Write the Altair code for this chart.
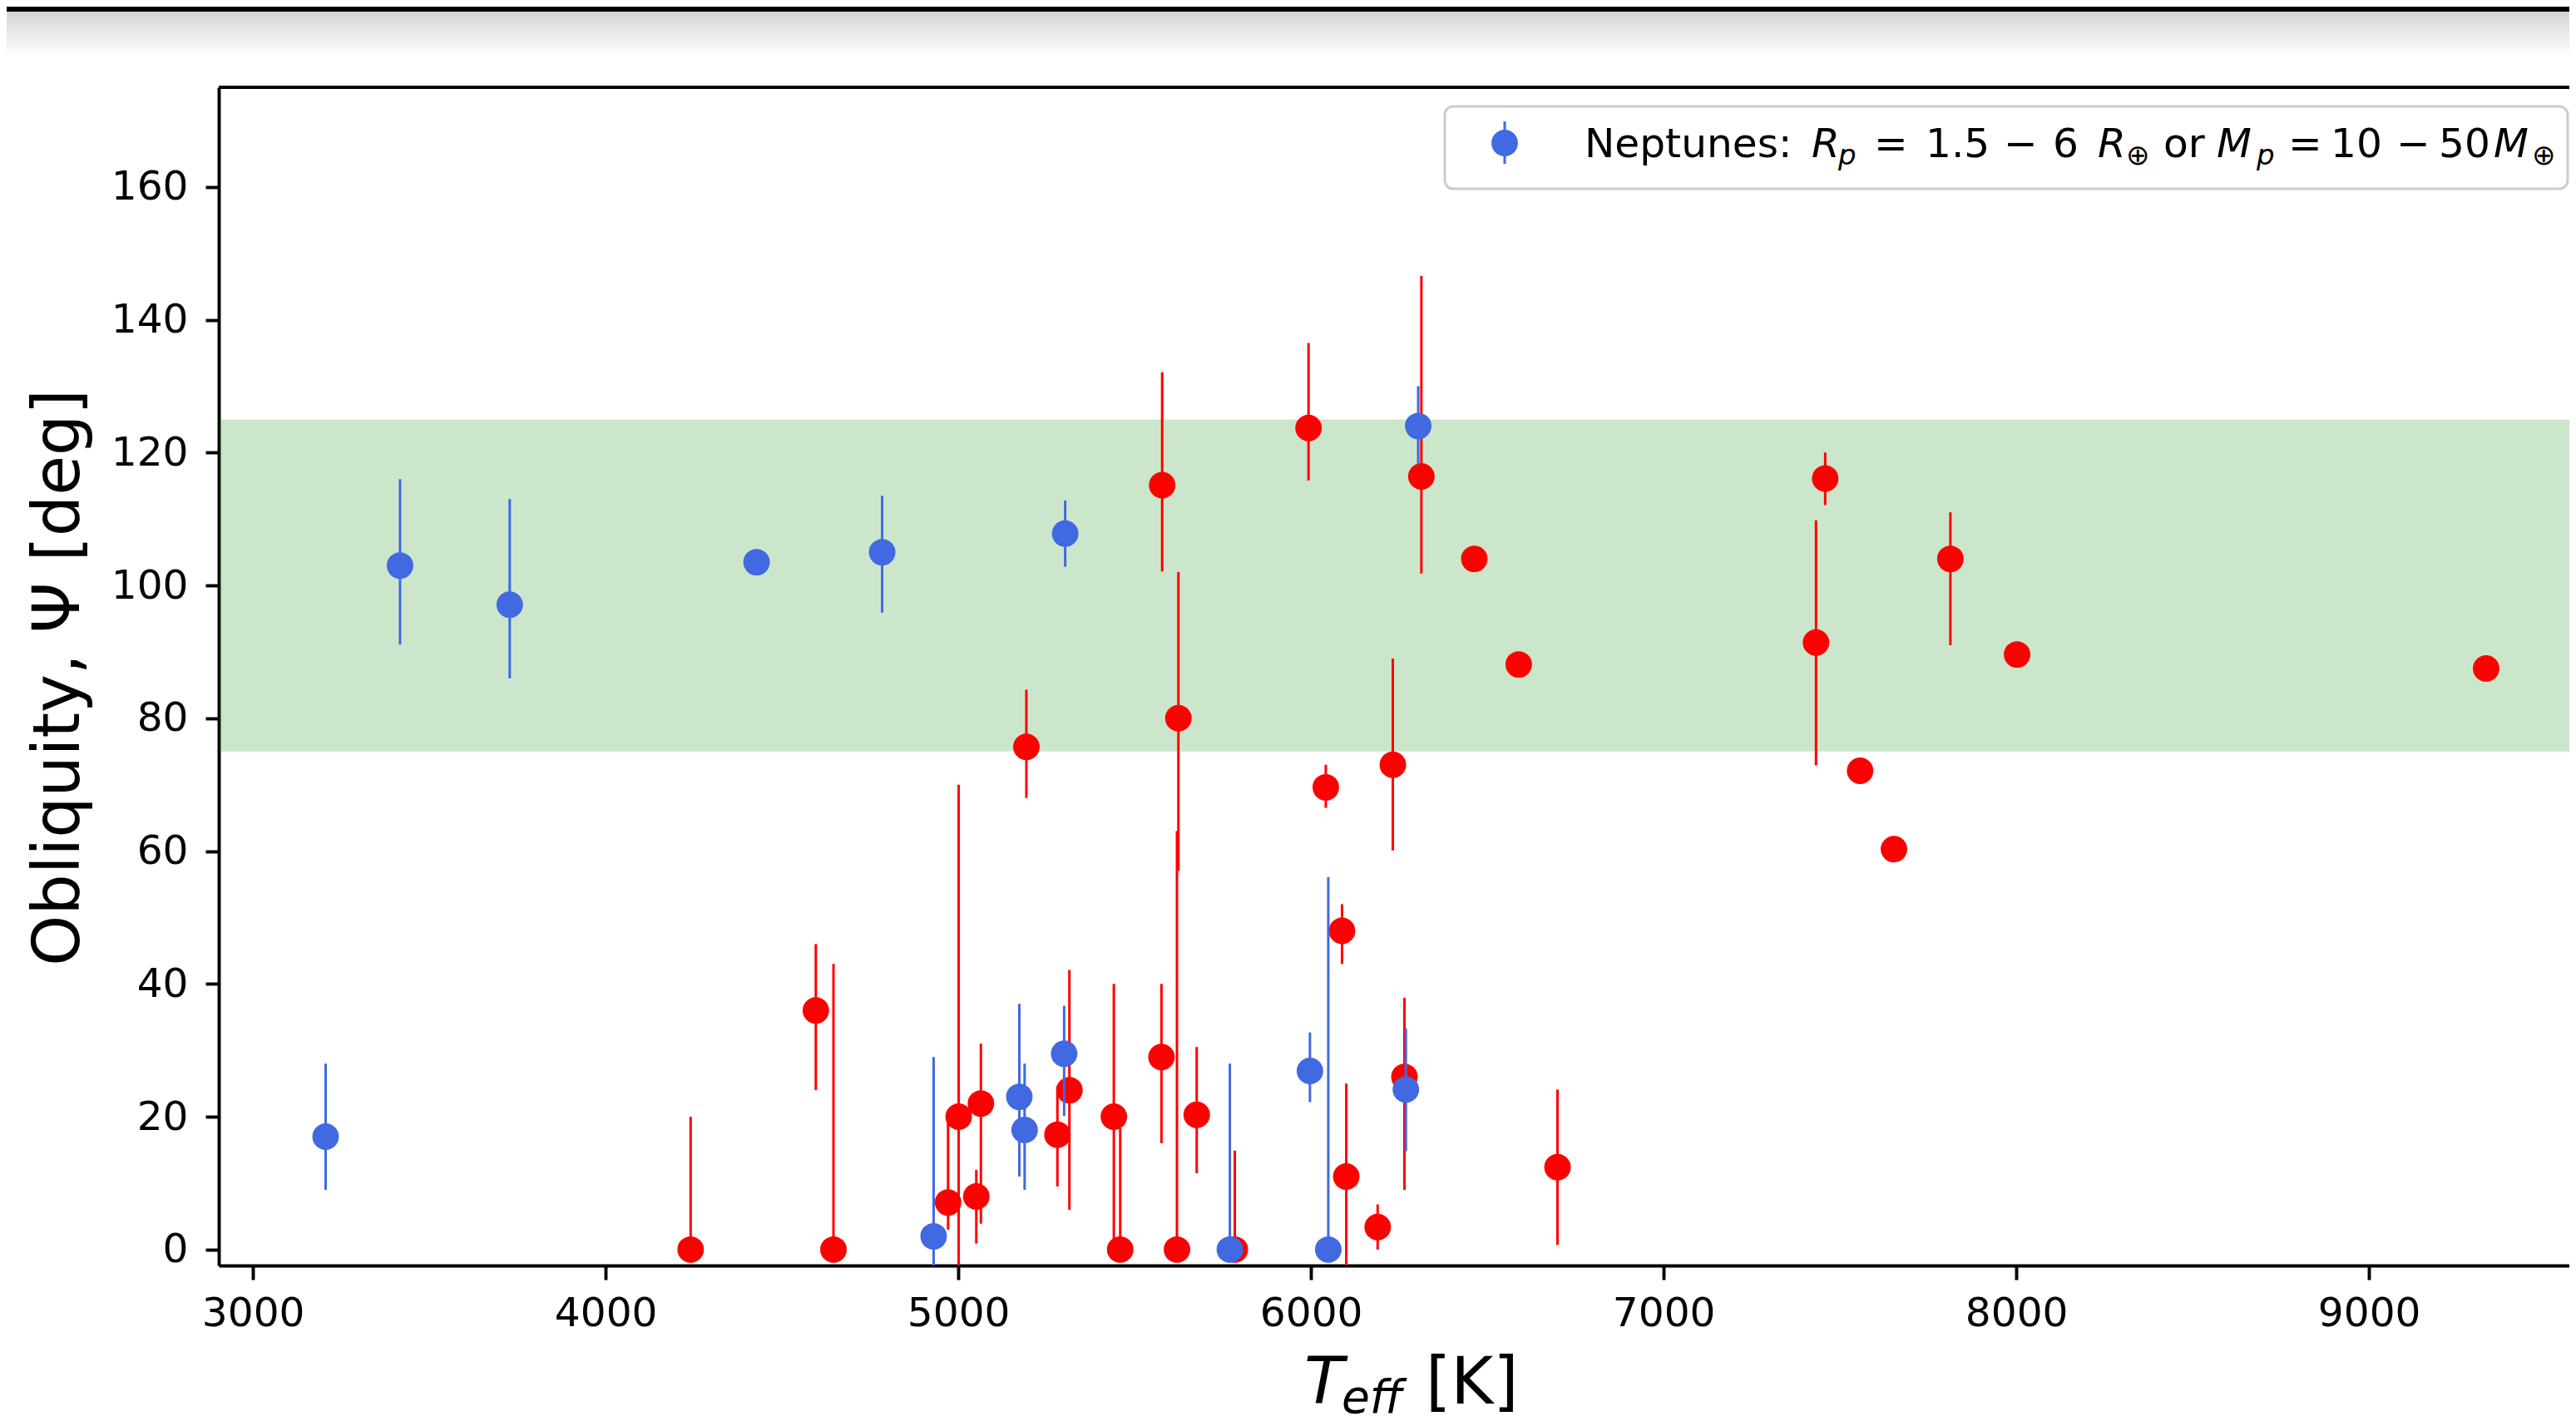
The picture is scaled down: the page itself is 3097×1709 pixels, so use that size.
import altair as alt
import pandas as pd

# ---------------- data ----------------
# "other" planets (red)
red_teff = [4241, 4596, 4646, 4971, 5001, 5051, 5064, 5193, 5281, 5315, 5441, 5459,
            5578, 5576, 5624, 5620, 5676, 5784, 5993, 6042, 6088, 6100, 6189, 6232,
            6265, 6313, 6463, 6589, 6699, 7432, 7458, 7557, 7653, 7813, 8002, 9332]
red_psi = [0.0, 36.0, 0.0, 7.1, 20.0, 8.0, 22.0, 75.7, 17.3, 24.0, 20.0, 0.0,
           115.1, 29.0, 80.0, 0.0, 20.3, 0.0, 123.7, 69.6, 48.0, 11.0, 3.4, 73.0,
           26.0, 116.4, 104.0, 88.1, 12.4, 91.4, 116.1, 72.1, 60.3, 104.0, 89.6, 87.5]
red_lo = [0.0, 24.0, 0.0, 3.0, -30.0, 0.9, 3.9, 68.0, 9.5, 6.0, 1.3, 0.0,
          102.1, 16.0, 57.0, 0.0, 11.5, 0.0, 115.8, 66.5, 43.0, -3.0, 0.0, 60.1,
          9.0, 101.8, 104.0, 88.1, 0.7, 72.9, 112.1, 71.0, 60.3, 91.0, 89.6, 87.5]
red_hi = [20.0, 46.0, 43.0, 19.4, 70.0, 12.0, 31.0, 84.3, 24.6, 42.1, 40.0, 18.3,
          132.1, 40.0, 102.0, 63.0, 30.5, 14.9, 136.5, 73.0, 52.0, 25.0, 6.8, 89.0,
          37.9, 146.6, 104.0, 88.1, 24.1, 109.8, 120.0, 73.0, 60.3, 111.0, 89.6, 87.5]

# Neptunes (blue)
blue_teff = [3206, 3417, 3728, 4428, 4784, 5303, 6304, 4930, 5173, 5188, 5300,
             5770, 5997, 6049, 6269]
blue_psi = [17.0, 103.0, 97.1, 103.5, 105.0, 107.8, 124.0, 2.0, 23.0, 18.0, 29.5,
            0.0, 26.9, 0.0, 24.1]
blue_lo = [9.0, 91.1, 86.0, 103.5, 95.9, 102.8, 118.2, -25.0, 11.0, 9.0, 20.1,
           0.0, 22.2, 0.0, 14.8]
blue_hi = [28.0, 116.0, 113.0, 103.5, 113.5, 112.8, 130.0, 29.0, 37.0, 28.0, 36.7,
           28.0, 32.7, 56.1, 33.3]

band_low = [75]
band_high = [125]

x_ticks = [3000, 4000, 5000, 6000, 7000, 8000, 9000]
y_ticks = [0, 20, 40, 60, 80, 100, 120, 140, 160]

legend_label = "Neptunes"

# ---------------- layout / style ----------------
W, H = 2826, 1417
PAD = {"left": 255, "top": 97, "right": 0, "bottom": 190}
X_DOM = [2903, 9568]
Y_DOM = [-2.4, 175]
FONT = "DejaVu Sans"
RED = "#ff0000"
BLUE = "#4169e1"
TICK_FS = 48.6
TITLE_FS = 77.8
LW = 3.9
MSIZE = 1018

red = pd.DataFrame({"T": red_teff, "psi": red_psi, "lo": red_lo, "hi": red_hi})
blue = pd.DataFrame({"T": blue_teff, "psi": blue_psi, "lo": blue_lo, "hi": blue_hi})
band = pd.DataFrame({"lo": band_low, "hi": band_high})
dummy = pd.DataFrame({"d": [0]})

xs = alt.Scale(domain=X_DOM, nice=False, zero=False)
ys = alt.Scale(domain=Y_DOM, nice=False, zero=False)

x_axis = alt.Axis(values=x_ticks, format="d", title=None, grid=False,
                  labelFont=FONT, labelFontSize=TICK_FS, labelColor="black",
                  tickColor="black", tickSize=17, tickWidth=LW,
                  domainColor="black", domainWidth=LW, labelPadding=17,
                  labelFlush=False, labelOverlap=False)
y_axis = alt.Axis(values=y_ticks, format="d", title=None, grid=False,
                  labelFont=FONT, labelFontSize=TICK_FS, labelColor="black",
                  tickColor="black", tickSize=16, tickWidth=LW,
                  domainColor="black", domainWidth=LW, labelPadding=21,
                  labelFlush=False, labelOverlap=False)


def xenc():
    return alt.X("T:Q", scale=xs, axis=x_axis)


band_layer = alt.Chart(band).mark_rect(color="green", opacity=0.2).encode(
    x=alt.value(0), x2=alt.value(W),
    y=alt.Y("lo:Q", scale=ys, axis=y_axis), y2="hi:Q")


def series(df, color):
    rules = alt.Chart(df).mark_rule(color=color, strokeWidth=3, clip=True).encode(
        x=xenc(), y=alt.Y("lo:Q", scale=ys, axis=y_axis), y2="hi:Q")
    pts = alt.Chart(df).mark_circle(color=color, size=MSIZE, opacity=1).encode(
        x=xenc(), y=alt.Y("psi:Q", scale=ys, axis=y_axis))
    return [rules, pts]


top_spine = alt.Chart(dummy).mark_rule(color="black", strokeWidth=LW).encode(
    x=alt.value(0), x2=alt.value(W), y=alt.value(0))

# screenshot frame at the top of the reference
black_band = alt.Chart(dummy).mark_rect(color="black").encode(
    x=alt.value(-PAD["left"]), x2=alt.value(W), y=alt.value(-PAD["top"]), y2=alt.value(-91))
grad = alt.LinearGradient(
    gradient="linear",
    stops=[alt.GradientStop(color="#d4d4d4", offset=0),
           alt.GradientStop(color="#ffffff", offset=1)],
    x1=0, x2=0, y1=0, y2=1)
grad_band = alt.Chart(dummy).mark_rect(fill=grad).encode(
    x=alt.value(-PAD["left"]), x2=alt.value(W), y=alt.value(-91), y2=alt.value(-37))

# legend box
legend_box = alt.Chart(dummy).mark_rect(
    fill="white", fillOpacity=0.8, stroke="#cccccc", strokeWidth=3, cornerRadius=10
).encode(x=alt.value(1474), x2=alt.value(2824), y=alt.value(23), y2=alt.value(122))
legend_err = alt.Chart(dummy).mark_rule(color=BLUE, strokeWidth=3).encode(
    x=alt.value(1546), y=alt.value(41), y2=alt.value(92))
legend_pt = alt.Chart(dummy).mark_circle(color=BLUE, size=MSIZE, opacity=1).encode(
    x=alt.value(1546), y=alt.value(67))

# text pieces: (text, x, y_baseline, size, italic) relative to plot origin
LEG_Y = 84
SUB_Y = 93
text_pieces = [
    (legend_label + ":", 1642, LEG_Y, 48.6, False),
    ("R", 1915, LEG_Y, 48.6, True),
    ("p", 1947, SUB_Y, 34, True),
    ("=", 1990, LEG_Y, 48.6, False),
    ("1.5", 2052, LEG_Y, 48.6, False),
    ("\u2212", 2146, LEG_Y, 48.6, False),
    ("6", 2205, LEG_Y, 48.6, False),
    ("R", 2259, LEG_Y, 48.6, True),
    ("\u2295", 2293, SUB_Y, 34, False),
    ("or", 2338, LEG_Y, 48.6, False),
    ("M", 2402, LEG_Y, 48.6, True),
    ("p", 2450, SUB_Y, 34, True),
    ("=", 2488, LEG_Y, 48.6, False),
    ("10", 2539, LEG_Y, 48.6, False),
    ("\u2212", 2618, LEG_Y, 48.6, False),
    ("50", 2669, LEG_Y, 48.6, False),
    ("M", 2735, LEG_Y, 48.6, True),
    ("\u2295", 2781, SUB_Y, 34, False),
    # x axis title  T_eff [K]
    ("T", 1305, 1583, TITLE_FS, True),
    ("eff", 1350, 1594, 55, True),
    ("[K]", 1451, 1583, TITLE_FS, False),
]

text_layers = []
for txt, px, py, fs, ital in text_pieces:
    text_layers.append(
        alt.Chart(dummy).mark_text(
            text=txt, align="left", baseline="alphabetic", font=FONT,
            fontSize=fs, fontStyle="italic" if ital else "normal", color="black"
        ).encode(x=alt.value(px), y=alt.value(py))
    )

y_title = alt.Chart(dummy).mark_text(
    text="Obliquity, \u03a8 [deg]", angle=270, align="center", baseline="middle",
    font=FONT, fontSize=TITLE_FS, color="black"
).encode(x=alt.value(-191), y=alt.value(710))

layers = ([black_band, grad_band, band_layer]
          + series(red, RED) + series(blue, BLUE)
          + [top_spine, legend_box, legend_err, legend_pt, y_title] + text_layers)

chart = alt.layer(*layers).properties(
    width=W, height=H, padding=PAD,
    autosize=alt.AutoSizeParams(type="none"),
    background="white",
).configure_view(stroke=None)

chart.save("out.html", embed_options={"renderer": "svg", "actions": False})
